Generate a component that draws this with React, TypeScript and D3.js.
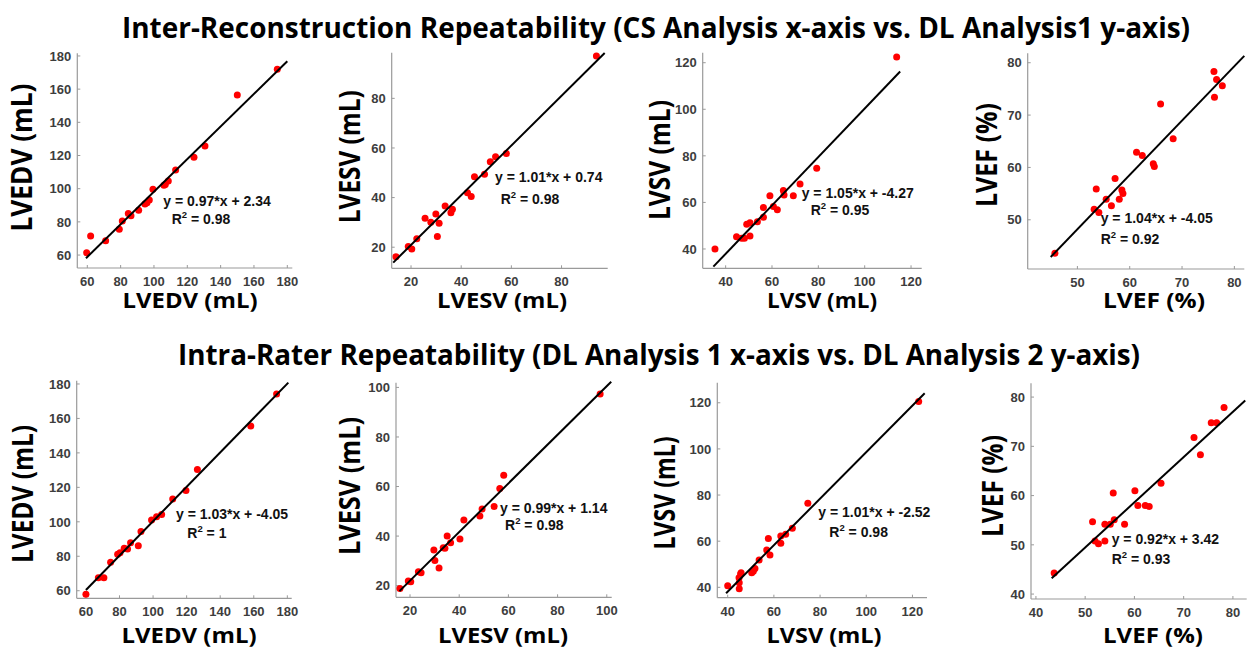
import React from "react";
import * as d3 from "d3";

// ---------- titles ----------
const rowTitles = [
  "Inter-Reconstruction Repeatability (CS Analysis x-axis vs. DL Analysis1 y-axis)",
  "Intra-Rater Repeatability (DL Analysis 1 x-axis vs. DL Analysis 2 y-axis)",
];

// ---------- axis labels ----------
const axisLabels = ["LVEDV (mL)", "LVESV (mL)", "LVSV (mL)", "LVEF (%)", "LVEDV (mL)", "LVESV (mL)", "LVSV (mL)", "LVEF (%)"];

// ---------- data: Inter-reconstruction (CS x, DL1 y) ----------
const interEdvX = [59.6, 62, 71, 79.2, 81, 84.6, 86.2, 90.8, 94.6, 95.8, 97.2, 99.4, 106, 106.8, 108.6, 113, 124, 130.6, 150, 174];
const interEdvY = [61.4, 71.5, 68.6, 75.5, 80.5, 85.1, 83.7, 87, 90.8, 91.6, 93.2, 99.6, 102, 102.6, 104.6, 111.3, 118.9, 125.7, 156.5, 172];
const interEsvX = [14, 18.9, 20.3, 22.3, 25.6, 27.9, 29.9, 31.2, 30.5, 33.6, 35.9, 36.5, 42.5, 44, 45.3, 49.3, 51.6, 53.7, 58, 93.9];
const interEsvY = [16.2, 20.3, 19.3, 23.4, 31.7, 30.1, 33.4, 29.7, 24.3, 36.6, 33.9, 35.3, 42, 40.4, 48.4, 49.4, 54.4, 56.5, 57.8, 97.1];
const interSvX = [35.4, 44.7, 46.9, 48.1, 49.1, 50.5, 50.5, 53.7, 56.3, 56.3, 59.1, 60.6, 62.3, 64.9, 65.2, 69.2, 72.1, 79.3, 113.8];
const interSvY = [40, 45.3, 44.6, 44.6, 50.6, 51.3, 45.6, 51.7, 53.6, 57.8, 62.9, 58.2, 56.8, 65.1, 63.2, 62.9, 67.9, 74.7, 122.4];
const interEfX = [45.7, 53.2, 54.1, 53.6, 55.5, 56.5, 57.2, 58, 58.5, 58.7, 61.3, 62.4, 64.5, 64.7, 65.9, 68.3, 76.1, 76.6, 76.2, 77.7];
const interEfY = [43.6, 52, 51.4, 55.9, 53.9, 52.7, 57.9, 53.9, 55.7, 55, 62.9, 62.3, 60.7, 60.2, 72.1, 65.5, 78.3, 76.8, 73.4, 75.6];

// ---------- data: Intra-rater (DL1 x, DL2 y) ----------
const intraEdvX = [60, 67.4, 70.7, 74.7, 78.9, 80.3, 82.8, 84.8, 86.6, 91.2, 92.8, 99.1, 102.1, 105.1, 111.7, 119.6, 126.4, 158.2, 173.6];
const intraEdvY = [57.9, 67.5, 67.5, 76.5, 81.1, 82.1, 84.6, 84.2, 87.9, 86.1, 94.3, 101, 103, 104.3, 113.2, 118.1, 130.4, 155.6, 174.2];
const intraEsvX = [15.9, 19.3, 20.3, 23.4, 24.5, 29.7, 30.1, 31.8, 33.5, 34.2, 35.1, 36.5, 40.3, 41.9, 48.4, 49.3, 54.2, 56.5, 58.1, 97.3];
const intraEsvY = [18.9, 21.9, 21.6, 25.6, 25.2, 34.4, 30.1, 27.1, 35.3, 35.1, 40, 37.3, 38.8, 46.5, 48.1, 50.9, 51.9, 59.2, 64.6, 97.3];
const intraSvX = [40, 44.9, 45.6, 45, 45, 45.8, 50.4, 51.1, 51.8, 53.6, 56.9, 57.6, 58.3, 63, 63, 65.1, 68, 74.7, 122.7];
const intraSvY = [40.7, 44.2, 45.8, 39.4, 42, 46.3, 46.3, 47, 48.2, 51.8, 56.2, 61.2, 54, 62.2, 59.1, 63, 65.6, 76.4, 120.5];
const intraEfX = [43.7, 51.5, 52, 52.7, 54, 54, 55.1, 55.9, 55.7, 58, 60.1, 60.7, 62.2, 63, 65.4, 72.1, 73.4, 75.6, 76.7, 78.2];
const intraEfY = [44.3, 54.7, 50.8, 50.2, 50.8, 54.2, 54.2, 55.1, 60.5, 54.2, 61, 58, 58, 57.8, 62.5, 71.8, 68.3, 74.8, 74.8, 77.9];

// ---------- fit lines (endpoints as drawn) ----------
const fitLineX = [[59.2, 180], [12.9, 97.2], [34.7, 115.3], [44.9, 81.9], [60, 180.6], [15.7, 101.8], [39.3, 125.3], [43.2, 82.5]];
const fitLineY = [[58.1, 176.8], [13.8, 98.3], [32.4, 116.2], [42.9, 81.3], [60.4, 180.8], [17.8, 102.3], [37.4, 124.1], [43.2, 79.3]];
const fitEquations = ["y = 0.97*x + 2.34", "y = 1.01*x + 0.74", "y = 1.05*x + -4.27", "y = 1.04*x + -4.05", "y = 1.03*x + -4.05", "y = 0.99*x + 1.14", "y = 1.01*x + -2.52", "y = 0.92*x + 3.42"];
const fitR2 = ["0.98", "0.98", "0.95", "0.92", "1", "0.98", "0.98", "0.93"];

// ---------- axis domains & ticks ----------
const xDomains = [[54, 183], [12.3, 98.4], [30.1, 124.6], [40.5, 81.9], [54.5, 182.6], [14.3, 102], [35.5, 126.3], [39, 82.8]];
const yDomains = [[52.2, 181.6], [11.5, 98.4], [31.7, 124.3], [40.6, 81.8], [55.6, 181.9], [15.3, 101.9], [35.5, 128.7], [39, 82.8]];
const xTicks = [[60, 80, 100, 120, 140, 160, 180], [20, 40, 60, 80], [40, 60, 80, 100, 120], [50, 60, 70, 80], [60, 80, 100, 120, 140, 160, 180], [20, 40, 60, 80, 100], [40, 60, 80, 100, 120], [40, 50, 60, 70, 80]];
const yTicks = [[60, 80, 100, 120, 140, 160, 180], [20, 40, 60, 80], [40, 60, 80, 100, 120], [50, 60, 70, 80], [60, 80, 100, 120, 140, 160, 180], [20, 40, 60, 80, 100], [40, 60, 80, 100, 120], [40, 50, 60, 70, 80]];

const seriesX = [interEdvX, interEsvX, interSvX, interEfX, intraEdvX, intraEsvX, intraSvX, intraEfX];
const seriesY = [interEdvY, interEsvY, interSvY, interEfY, intraEdvY, intraEsvY, intraSvY, intraEfY];

// ---------- layout (pixels) ----------
const layout = [
  { l: 77.3, r: 292.3, t: 53.3, b: 268, eq: [163.3, 205.5], r2: [171.7, 223.5], ylab: [32.3, 157.5, 148], xlab: [190, 307.5, 135] },
  { l: 391.7, r: 607.7, t: 52.7, b: 268.3, eq: [495, 182], r2: [500.7, 204], ylab: [360, 156.7, 133], xlab: [502, 307.5, 130] },
  { l: 702.7, r: 921.7, t: 52.7, b: 268.3, eq: [801.7, 197.5], r2: [810.7, 215], ylab: [670, 160, 120], xlab: [822, 307.5, 110] },
  { l: 1027.7, r: 1244.3, t: 53.3, b: 269, eq: [1100.7, 223], r2: [1100.7, 244], ylab: [996.7, 155, 104], xlab: [1154, 307.5, 102] },
  { l: 76.7, r: 291.7, t: 380.7, b: 598.3, eq: [176, 518.5], r2: [187.3, 538.3], ylab: [33.3, 494, 138], xlab: [189, 642.5, 135] },
  { l: 396, r: 611.7, t: 382.7, b: 597.3, eq: [500, 513], r2: [505, 530], ylab: [360, 486, 138], xlab: [503, 642.5, 130] },
  { l: 717.3, r: 927, t: 382.7, b: 597.7, eq: [818.3, 517], r2: [829.3, 536.7], ylab: [675, 493, 113], xlab: [824, 642.5, 115] },
  { l: 1031, r: 1246.7, t: 383.3, b: 599, eq: [1111.7, 544], r2: [1111.7, 564], ylab: [1003.3, 486, 102], xlab: [1153, 642.5, 100] },
];
const titleLayout = [
  { cx: 656, y: 38, w: 1068 },
  { cx: 659, y: 365, w: 962 },
];

const AXIS = "#9a9a9a";
const TICKTXT = "#3d3d3d";
const DOT = "#ff0000";
const labelFont = "'Open Sans', 'Noto Sans', sans-serif";
const numFont = "'Liberation Sans', Arial, sans-serif";

function Panel({ i }: { i: number }) {
  const L = layout[i];
  const x = d3.scaleLinear().domain(xDomains[i]).range([L.l, L.r]);
  const y = d3.scaleLinear().domain(yDomains[i]).range([L.b, L.t]);
  const line = d3.line<[number, number]>().x((d) => x(d[0])).y((d) => y(d[1]));
  const pts: [number, number][] = fitLineX[i].map((v, k) => [v, fitLineY[i][k]]);
  return (
    <g>
      {/* axes */}
      <line x1={L.l} x2={L.l} y1={L.t} y2={L.b} stroke={AXIS} strokeWidth={1.2} />
      <line x1={L.l} x2={L.r} y1={L.b} y2={L.b} stroke={AXIS} strokeWidth={1.2} />
      {xTicks[i].map((t) => (
        <g key={"xt" + t}>
          <line x1={x(t)} x2={x(t)} y1={L.b} y2={L.b - 3} stroke={AXIS} strokeWidth={1} />
          <text x={x(t)} y={L.b + 18} textAnchor="middle" fontFamily={numFont} fontWeight="bold" fontSize={13} fill={TICKTXT}>
            {t}
          </text>
        </g>
      ))}
      {yTicks[i].map((t) => (
        <g key={"yt" + t}>
          <line x1={L.l} x2={L.l + 3} y1={y(t)} y2={y(t)} stroke={AXIS} strokeWidth={1} />
          <text x={L.l - 6} y={y(t) + 4.7} textAnchor="end" fontFamily={numFont} fontWeight="bold" fontSize={13} fill={TICKTXT}>
            {t}
          </text>
        </g>
      ))}
      {/* points */}
      {seriesX[i].map((v, k) => (
        <circle key={"p" + k} cx={x(v)} cy={y(seriesY[i][k])} r={3.5} fill={DOT} />
      ))}
      {/* fit line */}
      <path d={line(pts) || ""} stroke="#000" strokeWidth={2} fill="none" />
      {/* annotation */}
      <text x={L.eq[0]} y={L.eq[1]} fontFamily={numFont} fontWeight="bold" fontSize={14} fill="#111">
        {fitEquations[i]}
      </text>
      <text x={L.r2[0]} y={L.r2[1]} fontFamily={numFont} fontWeight="bold" fontSize={14} fill="#111">
        R
        <tspan fontSize={9.5} dy={-6}>2</tspan>
        <tspan dy={6}>{" = " + fitR2[i]}</tspan>
      </text>
      {/* axis labels */}
      <text
        x={L.xlab[0]}
        y={L.xlab[1]}
        textAnchor="middle"
        fontFamily={labelFont}
        fontWeight="bold"
        fontSize={22}
        fill="#000"
        textLength={L.xlab[2]}
        lengthAdjust="spacingAndGlyphs"
      >
        {axisLabels[i]}
      </text>
      <text
        transform={`translate(${L.ylab[0]},${L.ylab[1]}) rotate(-90)`}
        textAnchor="middle"
        fontFamily={labelFont}
        fontWeight="bold"
        fontSize={28}
        fill="#000"
        textLength={L.ylab[2]}
        lengthAdjust="spacingAndGlyphs"
      >
        {axisLabels[i]}
      </text>
    </g>
  );
}

export default function App() {
  return (
    <svg
      width={1248}
      height={650}
      style={{ position: "fixed", left: 0, top: 0, background: "#fff" }}
    >
      <rect width={1248} height={650} fill="#fff" />
      {rowTitles.map((t, k) => (
        <text
          key={k}
          x={titleLayout[k].cx}
          y={titleLayout[k].y}
          textAnchor="middle"
          fontFamily={labelFont}
          fontWeight="bold"
          fontSize={28}
          fill="#000"
          textLength={titleLayout[k].w}
          lengthAdjust="spacingAndGlyphs"
        >
          {t}
        </text>
      ))}
      {layout.map((_, i) => (
        <Panel key={i} i={i} />
      ))}
    </svg>
  );
}
